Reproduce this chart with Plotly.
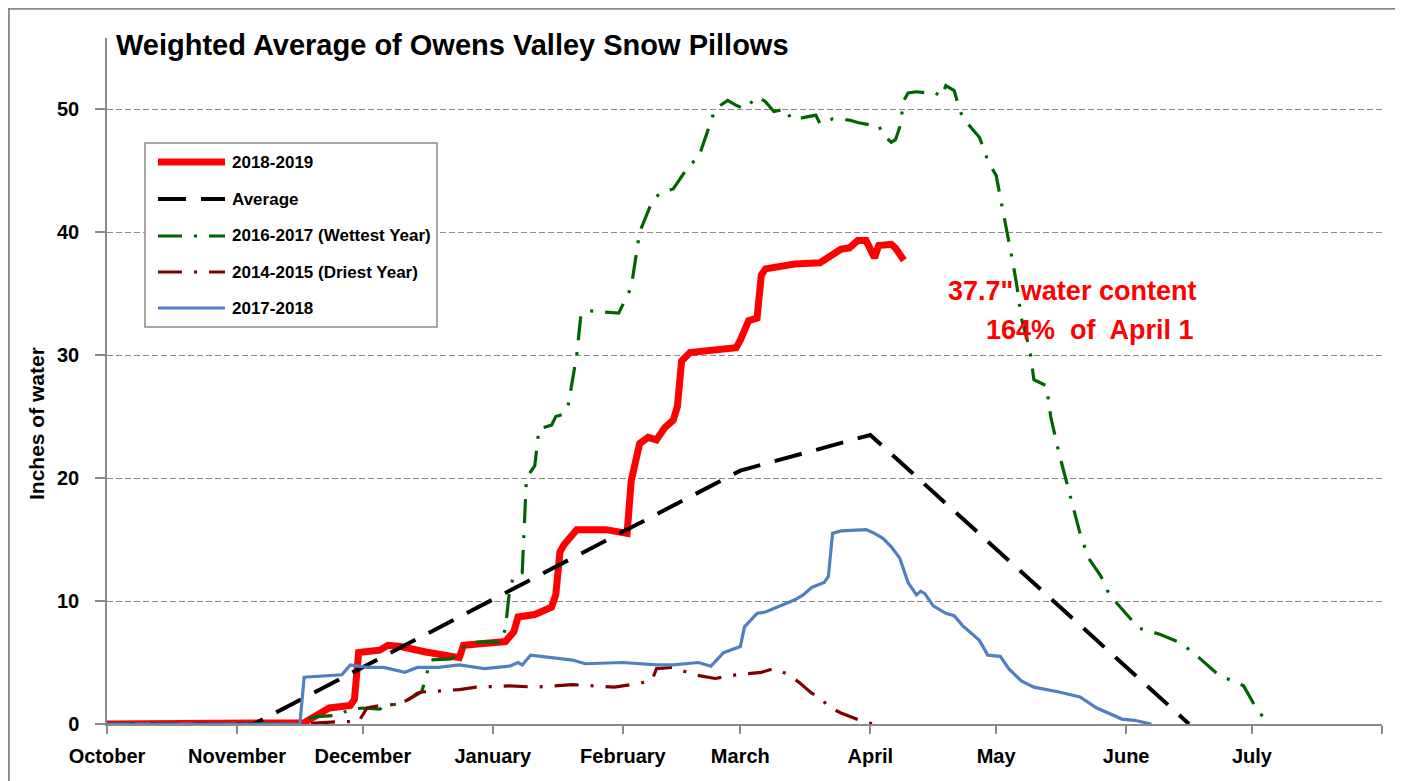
import plotly.graph_objects as go

# ---------------- data ----------------
month_ticks = ["2018-10-01", "2018-11-01", "2018-12-01", "2019-01-01", "2019-02-01", "2019-03-01",
               "2019-04-01", "2019-05-01", "2019-06-01", "2019-07-01", "2019-08-01"]
month_labels = ["October", "November", "December", "January", "February", "March",
                "April", "May", "June", "July", ""]
y_ticks = [0, 10, 20, 30, 40, 50]

series_names = ["2018-2019", "Average", "2016-2017 (Wettest Year)", "2014-2015 (Driest Year)", "2017-2018"]

wy2019_dates = ["2018-10-01", "2018-11-15", "2018-11-17", "2018-11-23", "2018-11-28", "2018-11-29", "2018-11-30",
                "2018-12-01", "2018-12-05", "2018-12-07", "2018-12-10", "2018-12-16", "2018-12-22", "2018-12-24",
                "2018-12-25", "2018-12-30",
                "2019-01-04", "2019-01-06", "2019-01-07", "2019-01-11", "2019-01-15", "2019-01-16", "2019-01-17",
                "2019-01-18", "2019-01-21", "2019-01-28", "2019-01-31",
                "2019-02-02", "2019-02-03", "2019-02-05", "2019-02-07", "2019-02-09", "2019-02-11", "2019-02-13",
                "2019-02-14", "2019-02-15", "2019-02-17", "2019-02-22", "2019-02-28",
                "2019-03-01", "2019-03-03", "2019-03-05", "2019-03-06", "2019-03-07", "2019-03-10", "2019-03-14",
                "2019-03-20", "2019-03-22", "2019-03-25", "2019-03-27", "2019-03-29", "2019-03-31",
                "2019-04-02", "2019-04-03", "2019-04-06", "2019-04-07", "2019-04-09"]
wy2019_vals = [0, 0, 0.1, 1.3, 1.5, 2.0, 5.8,
               5.85, 6.0, 6.4, 6.3, 5.85, 5.6, 5.4,
               6.4, 6.6,
               6.7, 7.5, 8.7, 8.9, 9.5, 10.5, 14.0,
               14.6, 15.8, 15.8, 15.6,
               15.5, 19.8, 22.8, 23.3, 23.1, 24.1, 24.7,
               25.8, 29.5, 30.2, 30.4, 30.6,
               31.2, 32.8, 33.0, 36.5, 37.0, 37.2, 37.4,
               37.5, 38.0, 38.6, 38.7, 39.3, 39.3,
               37.9, 38.9, 39.0, 38.7, 37.7]

avg_dates = ["2018-10-01", "2018-11-05", "2019-03-01", "2019-04-01", "2019-06-16"]
avg_vals = [0, 0, 20.6, 23.5, 0]

wet_dates = ["2018-10-01", "2018-11-16", "2018-11-17", "2018-11-20", "2018-11-25", "2018-11-28",
             "2018-12-01", "2018-12-05", "2018-12-06", "2018-12-10", "2018-12-13", "2018-12-15", "2018-12-16",
             "2018-12-17", "2018-12-22", "2018-12-24", "2018-12-26", "2018-12-31",
             "2019-01-03", "2019-01-04", "2019-01-05", "2019-01-06", "2019-01-08", "2019-01-09", "2019-01-11",
             "2019-01-12", "2019-01-15", "2019-01-16", "2019-01-18", "2019-01-19", "2019-01-21", "2019-01-22",
             "2019-01-24", "2019-01-29", "2019-01-31",
             "2019-02-03", "2019-02-05", "2019-02-08", "2019-02-10", "2019-02-13", "2019-02-15", "2019-02-17",
             "2019-02-19", "2019-02-21", "2019-02-23", "2019-02-26", "2019-02-28",
             "2019-03-02", "2019-03-05", "2019-03-07", "2019-03-09", "2019-03-12", "2019-03-13", "2019-03-16",
             "2019-03-19", "2019-03-20", "2019-03-23", "2019-03-27", "2019-03-29",
             "2019-04-01", "2019-04-03", "2019-04-04", "2019-04-06", "2019-04-07", "2019-04-08", "2019-04-09",
             "2019-04-10", "2019-04-12", "2019-04-15", "2019-04-16", "2019-04-18", "2019-04-19", "2019-04-21",
             "2019-04-22", "2019-04-23", "2019-04-25", "2019-04-27", "2019-04-28", "2019-04-29",
             "2019-05-01", "2019-05-02", "2019-05-03", "2019-05-04", "2019-05-05", "2019-05-06", "2019-05-07",
             "2019-05-09", "2019-05-10", "2019-05-13", "2019-05-14", "2019-05-16", "2019-05-19", "2019-05-21",
             "2019-05-23", "2019-05-26", "2019-05-28",
             "2019-06-01", "2019-06-04", "2019-06-09", "2019-06-14", "2019-06-18", "2019-06-23", "2019-06-29",
             "2019-07-02", "2019-07-04"]
wet_vals = [0, 0, 0.4, 0.6, 0.7, 1.2,
            1.3, 1.2, 1.4, 1.7, 2.2, 2.6, 3.7,
            5.2, 5.3, 5.8, 6.6, 6.7,
            6.6, 7.8, 10.9, 12.1, 12.3, 20.0, 21.0,
            24.0, 24.3, 25.0, 25.2, 26.0, 30.0, 33.3,
            33.6, 33.5, 33.4,
            35.5, 40.0, 42.5, 43.2, 43.5, 44.5, 45.5,
            46.0, 48.0, 50.0, 50.7, 50.3,
            50.0, 51.0, 50.6, 49.8, 50.0, 49.2, 49.3,
            49.5, 48.8, 49.2, 49.1, 48.9,
            48.7, 48.7, 47.9, 47.3, 47.5, 48.5, 50.7,
            51.3, 51.4, 51.3, 51.4, 51.0, 51.9, 51.5,
            50.3, 49.3, 48.5, 47.7, 46.8, 45.8,
            44.6, 42.8, 41.0, 39.5, 37.5, 35.5, 33.0,
            30.5, 28.0, 27.5, 25.0, 22.0, 18.0, 15.5,
            13.5, 12.0, 10.5,
            9.0, 7.8, 7.3, 6.6, 5.5, 4.0, 3.1,
            1.3, 0.4]

dry_dates = ["2018-10-01", "2018-11-16", "2018-11-26", "2018-11-30",
             "2018-12-02", "2018-12-05", "2018-12-09", "2018-12-12", "2018-12-14", "2018-12-15", "2018-12-20",
             "2018-12-24", "2018-12-28",
             "2019-01-05", "2019-01-11", "2019-01-20", "2019-01-30",
             "2019-02-05", "2019-02-08", "2019-02-09", "2019-02-13", "2019-02-18", "2019-02-23", "2019-02-28",
             "2019-03-06", "2019-03-09", "2019-03-12", "2019-03-15", "2019-03-18", "2019-03-20", "2019-03-22",
             "2019-03-25", "2019-03-31", "2019-04-02"]
dry_vals = [0, 0, 0.2, 0.2,
            1.3, 1.5, 1.6, 2.0, 2.5, 2.6, 2.7,
            2.8, 3.0,
            3.1, 3.0, 3.2, 3.0,
            3.3, 3.6, 4.5, 4.6, 4.0, 3.7, 4.0,
            4.2, 4.5, 4.1, 3.4, 2.5, 2.2, 1.4,
            0.9, 0.1, 0]

wy2018_dates = ["2018-10-01", "2018-11-16", "2018-11-17", "2018-11-21", "2018-11-26", "2018-11-28",
                "2018-12-02", "2018-12-06", "2018-12-11", "2018-12-14", "2018-12-19", "2018-12-24", "2018-12-30",
                "2019-01-05", "2019-01-07", "2019-01-08", "2019-01-10", "2019-01-15", "2019-01-20", "2019-01-23",
                "2019-02-01", "2019-02-09", "2019-02-13", "2019-02-19", "2019-02-22", "2019-02-25",
                "2019-03-01", "2019-03-02", "2019-03-05", "2019-03-07", "2019-03-10", "2019-03-14", "2019-03-16",
                "2019-03-18", "2019-03-21", "2019-03-22", "2019-03-23", "2019-03-25", "2019-03-31",
                "2019-04-02", "2019-04-04", "2019-04-06", "2019-04-08", "2019-04-09", "2019-04-10", "2019-04-12",
                "2019-04-13", "2019-04-14", "2019-04-16", "2019-04-19", "2019-04-21", "2019-04-23", "2019-04-27",
                "2019-04-29",
                "2019-05-02", "2019-05-04", "2019-05-07", "2019-05-10", "2019-05-16", "2019-05-21", "2019-05-25",
                "2019-05-31", "2019-06-03", "2019-06-07"]
wy2018_vals = [0, 0, 3.8, 3.9, 4.0, 4.8,
               4.6, 4.6, 4.2, 4.6, 4.6, 4.8, 4.5,
               4.7, 5.0, 4.8, 5.6, 5.4, 5.2, 4.9,
               5.0, 4.8, 4.8, 5.0, 4.7, 5.8,
               6.3, 7.9, 9.0, 9.1, 9.5, 10.1, 10.5,
               11.1, 11.5, 12.0, 15.5, 15.7, 15.8,
               15.5, 15.1, 14.4, 13.5, 12.5, 11.5, 10.5,
               10.8, 10.6, 9.6, 9.0, 8.8, 8.0, 6.8,
               5.6,
               5.5, 4.5, 3.5, 3.0, 2.6, 2.2, 1.3,
               0.4, 0.3, 0]

note_line1 = '37.7" water content'
note_line2 = '164%  of  April 1'
chart_title = "Weighted Average of Owens Valley Snow Pillows"
y_title = "Inches of water"

# ---------------- styling ----------------
# The page body adds an 8px margin, so positions below are the reference pixel positions minus 8.
OFF = 8
W, H = 1403 - OFF, 781 - OFF
L, R, T, B = 107 - OFF, 1382 - OFF, 38 - OFF, 724 - OFF   # plot area in figure pixels
PX_PER_UNIT = 12.3


def px_x(px_ref):
    return (px_ref - OFF - L) / (R - L)


def px_y(py_ref):
    return (B - (py_ref - OFF)) / (B - T)


FONT = "Liberation Sans, Arial, sans-serif"
GRAY = "#8a8a8a"

styles = [
    dict(color="#FF0000", width=7, dash="solid"),
    dict(color="#000000", width=4, dash="28px,15px"),
    dict(color="#006400", width=3.2, dash="24px,12px,3px,12px"),
    dict(color="#7F0000", width=3.2, dash="24px,12px,3px,12px"),
    dict(color="#4F81BD", width=3.2, dash="solid"),
]
xs = [wy2019_dates, avg_dates, wet_dates, dry_dates, wy2018_dates]
ys = [wy2019_vals, avg_vals, wet_vals, dry_vals, wy2018_vals]

fig = go.Figure()
for name, x, y, st in zip(series_names, xs, ys, styles):
    fig.add_trace(go.Scatter(x=x, y=y, name=name, mode="lines", line=st, showlegend=False))

fig.update_layout(
    width=W, height=H,
    margin=dict(l=L, r=W - R, t=T, b=H - B),
    paper_bgcolor="white", plot_bgcolor="white",
    xaxis=dict(
        type="date", range=[month_ticks[0], month_ticks[-1]],
        tickmode="array", tickvals=month_ticks, ticktext=month_labels,
        ticks="outside", ticklen=8, tickwidth=1.5, tickcolor=GRAY,
        showline=True, linecolor=GRAY, linewidth=1.5, showgrid=False, zeroline=False,
        tickfont=dict(family=FONT, size=20, color="black", weight="bold"),
        ticklabelstandoff=5,
    ),
    yaxis=dict(
        range=[0, (B - T) / PX_PER_UNIT],
        tickmode="array", tickvals=y_ticks,
        ticks="outside", ticklen=10, tickwidth=1.5, tickcolor=GRAY,
        showline=True, linecolor=GRAY, linewidth=1.5,
        showgrid=True, gridcolor=GRAY, gridwidth=1, griddash="6px,3px", zeroline=False,
        tickfont=dict(family=FONT, size=20, color="black", weight="bold"),
        ticklabelstandoff=12,
    ),
)

shapes = []
annotations = []

# outer chart frame (left/top edges sit at the page edge once the body margin is removed)
shapes.append(dict(type="rect", xref="paper", yref="paper",
                   x0=px_x(8.6), x1=px_x(1400), y0=px_y(800), y1=px_y(8.6),
                   line=dict(color=GRAY, width=2.5), fillcolor="rgba(0,0,0,0)", layer="above"))

# legend box
shapes.append(dict(type="rect", xref="paper", yref="paper",
                   x0=px_x(145), x1=px_x(437), y0=px_y(327), y1=px_y(143),
                   line=dict(color=GRAY, width=1.5), fillcolor="white", layer="above"))
legend_rows = [162, 199, 236, 272, 308]
for name, st, row in zip(series_names, styles, legend_rows):
    shapes.append(dict(type="line", xref="paper", yref="paper",
                       x0=px_x(158), x1=px_x(225), y0=px_y(row), y1=px_y(row),
                       line=dict(color=st["color"], width=st["width"], dash=st["dash"]),
                       layer="above"))
    annotations.append(dict(text=name, xref="paper", yref="paper", x=px_x(230), y=px_y(row),
                            xanchor="left", yanchor="middle", showarrow=False,
                            font=dict(family=FONT, size=17, color="black", weight="bold")))

# chart title
annotations.append(dict(text=chart_title, xref="paper", yref="paper", x=px_x(114), y=px_y(45),
                        xanchor="left", yanchor="middle", showarrow=False,
                        font=dict(family=FONT, size=29, color="black", weight="bold")))
# y title
annotations.append(dict(text=y_title, xref="paper", yref="paper", x=px_x(36), y=px_y(424),
                        xanchor="center", yanchor="middle", showarrow=False, textangle=-90,
                        font=dict(family=FONT, size=21, color="black", weight="bold")))
# red note
annotations.append(dict(text=note_line1, xref="paper", yref="paper", x=px_x(1198), y=px_y(291),
                        xanchor="right", yanchor="middle", showarrow=False,
                        font=dict(family=FONT, size=27, color="#FF0000", weight="bold")))
annotations.append(dict(text=note_line2, xref="paper", yref="paper", x=px_x(1196), y=px_y(330),
                        xanchor="right", yanchor="middle", showarrow=False,
                        font=dict(family=FONT, size=27, color="#FF0000", weight="bold")))

fig.update_layout(shapes=shapes, annotations=annotations)

fig.write_html("out.html")
